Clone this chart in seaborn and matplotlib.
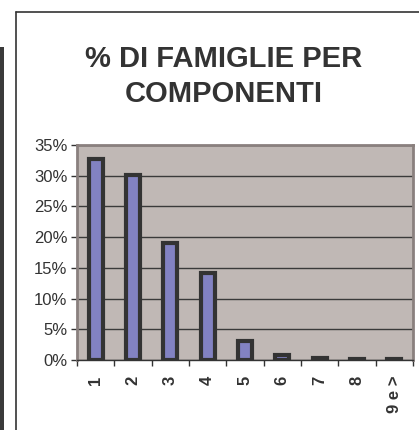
import matplotlib
matplotlib.use("Agg")
import matplotlib.pyplot as plt
import seaborn as sns
import pandas as pd
from matplotlib.patches import Rectangle
from matplotlib.lines import Line2D
from matplotlib.ticker import PercentFormatter, FixedLocator

categories = ["1", "2", "3", "4", "5", "6", "7", "8", "9 e >"]
values = [32.7, 30.1, 19.0, 14.2, 3.1, 0.75, 0.35, 0.2, 0.2]
title = "% DI FAMIGLIE PER\nCOMPONENTI"

sns.set_style("white")
plt.rcParams['font.family'] = ['Liberation Sans', 'DejaVu Sans']

W, H = 419, 430
fig = plt.figure(figsize=(W / 100, H / 100), dpi=100)
fig.patch.set_facecolor("white")

# outer frame
fig.add_artist(Line2D([16 / W, 16 / W], [0, 1 - 12 / H], color="#333333", lw=1.2, transform=fig.transFigure))
fig.add_artist(Line2D([16 / W, 1], [1 - 12 / H, 1 - 12 / H], color="#333333", lw=1.2, transform=fig.transFigure))
fig.add_artist(Rectangle((0, 0), 4 / W, 1 - 47 / H, color="#3a3a3a", transform=fig.transFigure, lw=0))

ax = fig.add_axes([77 / W, 1 - 360 / H, (413 - 77) / W, (360 - 145) / H])
ax.set_facecolor("#c0b8b5")

df = pd.DataFrame({"cat": categories, "val": values})
sns.barplot(data=df, x="cat", y="val", color="#8282c2", saturation=1, width=0.38,
            edgecolor="#333333", linewidth=3, ax=ax)

ax.set_xlim(-0.5, len(categories) - 0.5)
ax.set_ylim(0, 35)
ax.yaxis.set_major_locator(FixedLocator([0, 5, 10, 15, 20, 25, 30, 35]))
ax.yaxis.set_major_formatter(PercentFormatter(decimals=0))
ax.grid(axis="y", color="#3a3a3a", lw=1)
ax.set_axisbelow(True)
ax.set_xlabel("")
ax.set_ylabel("")

for s in ["top", "right", "left"]:
    ax.spines[s].set_color("#8a807e")
    ax.spines[s].set_linewidth(2)
ax.spines["bottom"].set_color("#333333")
ax.spines["bottom"].set_linewidth(1)

ax.tick_params(axis="y", which="major", left=True, length=4, width=1, color="#333333",
               labelsize=12, labelcolor="#333333", pad=3)
ax.set_xticks(range(len(categories)))
ax.set_xticklabels(categories, rotation=90, fontweight="bold")
ax.set_xticks([i - 0.5 for i in range(len(categories) + 1)], minor=True)
ax.tick_params(axis="x", which="major", bottom=True, length=0, labelsize=12, labelcolor="#333333", pad=11)
ax.tick_params(axis="x", which="minor", bottom=True, length=4, width=1, color="#333333")
for lbl in ax.get_xticklabels():
    lbl.set_va("top")
    lbl.set_ha("center")

fig.text(224 / W, 1 - 45 / H, title, ha="center", va="top", fontsize=21, fontweight="bold",
         color="#333333", linespacing=1.3)

fig.savefig("out.png", dpi=100)
